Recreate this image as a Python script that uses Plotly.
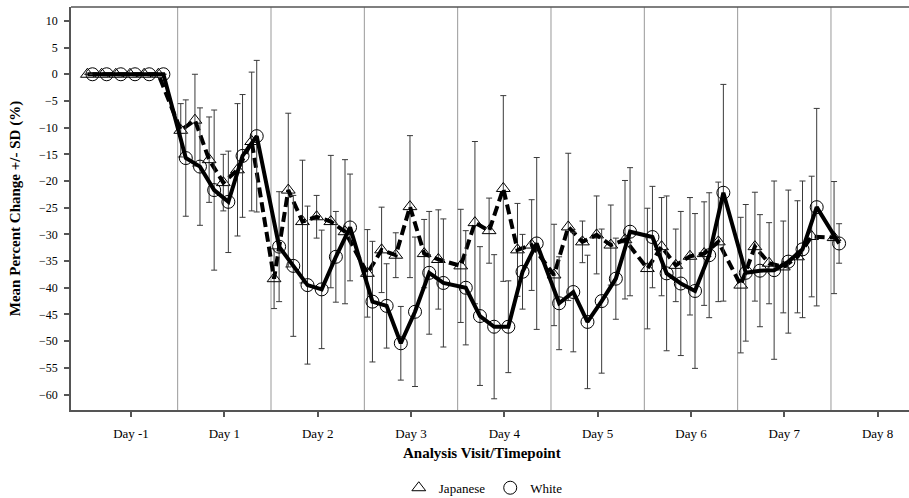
import plotly.graph_objects as go

# ---- data ----
day_labels = ["Day -1", "Day 1", "Day 2", "Day 3", "Day 4", "Day 5", "Day 6", "Day 7", "Day 8"]
# visit (category index) and timepoint slot within visit for each observation
visit_index = [0]*6 + [1]*6 + [2]*6 + [3]*6 + [4]*6 + [5]*6 + [6]*6 + [7]*6 + [8]
timepoint_slot = [0, 1, 2, 3, 4, 5]*8 + [0]

japanese_mean = [0, 0, 0, 0, 0, 0,
                 -10.5, -8.6, -16.0, -20.3, -17.9, -12.6,
                 -38.3, -21.7, -27.6, -26.7, -27.6, -29.5,
                 -37.3, -32.9, -33.9, -24.8, -33.6, -34.7,
                 -35.9, -27.8, -29.3, -21.4, -32.9, -32.0,
                 -37.6, -28.6, -31.4, -30.1, -32.0, -31.0,
                 -36.4, -32.3, -35.8, -34.1, -33.6, -31.4,
                 -39.5, -32.3, -35.4, -36.1, -34.2, -30.4,
                 -30.6]
japanese_sd = [0, 0, 0, 0, 0, 0,
               5.0, 8.6, 8.0, 5.3, 12.4, 13.0,
               5.6, 14.4, 11.5, 4.0, 12.4, 13.5,
               8.2, 8.0, 4.2, 13.3, 6.4, 9.3,
               10.6, 15.2, 6.1, 17.4, 8.7, 8.5,
               9.5, 13.8, 3.9, 7.3, 7.5, 11.1,
               11.3, 9.2, 6.8, 11.0, 9.7, 11.2,
               12.7, 10.2, 7.6, 8.6, 10.5, 11.3,
               10.5]
white_mean = [0, 0, 0, 0, 0, 0,
              -15.7, -17.3, -21.7, -23.9, -15.3, -11.6,
              -32.3, -35.9, -39.5, -40.3, -34.2, -28.7,
              -42.6, -43.4, -50.4, -44.5, -37.2, -39.1,
              -40.0, -45.3, -47.3, -47.3, -37.0, -31.7,
              -42.9, -40.8, -46.4, -42.5, -38.3, -29.5,
              -30.5, -37.3, -39.2, -40.6, -33.9, -22.2,
              -37.2, -36.8, -36.7, -35.1, -32.8, -24.9,
              -31.7]
white_sd = [0, 0, 0, 0, 0, 0,
            10.9, 11.0, 15.0, 9.5, 11.5, 14.2,
            10.3, 13.2, 14.8, 11.1, 8.5, 10.0,
            11.3, 7.9, 6.9, 14.0, 11.5, 12.0,
            10.7, 13.0, 13.5, 8.6, 7.0, 16.1,
            8.7, 11.2, 12.5, 13.5, 7.6, 12.0,
            9.5, 14.5, 13.5, 14.5, 11.7, 20.3,
            12.8, 10.5, 16.7, 13.4, 12.8, 18.5,
            3.7]
y_ticks = list(range(-60, 11, 5))

# ---- positions on the category axis ----
slot_start, slot_step, group_shift = -0.44, 0.152, 0.027
base_x = [v + slot_start + s*slot_step for v, s in zip(visit_index, timepoint_slot)]
x_jap = [b - group_shift for b in base_x]
x_wht = [b + group_shift for b in base_x]

FONT = "Liberation Serif, Times New Roman, serif"
err_style = dict(type="data", symmetric=True, color="#3a3a3a", thickness=1, width=3)
AX = "#555555"

fig = go.Figure()
fig.add_trace(go.Scatter(
    x=x_jap, y=japanese_mean, mode="lines+markers", name="Japanese", showlegend=False,
    line=dict(color="black", width=4, dash="10px,5px"),
    marker=dict(symbol="triangle-up-open", size=12, color="black", line=dict(width=1)),
    error_y=dict(array=japanese_sd, **err_style)))
fig.add_trace(go.Scatter(
    x=x_wht, y=white_mean, mode="lines+markers", name="White", showlegend=False,
    line=dict(color="black", width=4),
    marker=dict(symbol="circle-open", size=13, color="black", line=dict(width=1)),
    error_y=dict(array=white_sd, **err_style)))
# legend-only entries (markers only)
fig.add_trace(go.Scatter(x=[None], y=[None], mode="markers", name="Japanese",
                         marker=dict(symbol="triangle-up-open", size=12, color="black", line=dict(width=1))))
fig.add_trace(go.Scatter(x=[None], y=[None], mode="markers", name="White",
                         marker=dict(symbol="circle-open", size=13, color="black", line=dict(width=1))))

for k in range(len(day_labels) - 1):
    fig.add_shape(type="line", xref="x", yref="paper", x0=k + 0.5, x1=k + 0.5, y0=0, y1=1,
                  line=dict(color="#999999", width=1), layer="below")
# top frame line
fig.add_shape(type="line", xref="paper", yref="paper", x0=0, x1=1.02, y0=1, y1=1,
              line=dict(color=AX, width=1.5))

fig.update_layout(
    width=909, height=498,
    margin=dict(l=71, r=0, t=7, b=88, autoexpand=False),
    plot_bgcolor="white", paper_bgcolor="white",
    font=dict(family=FONT, size=12, color="black"),
    showlegend=True,
    legend=dict(orientation="h", x=0.492, xanchor="center", y=-0.193, yanchor="middle",
                font=dict(family=FONT, size=13), itemwidth=30, bgcolor="rgba(0,0,0,0)"),
    xaxis=dict(range=[-0.643, 8.336], tickmode="array", tickvals=list(range(len(day_labels))),
               ticktext=day_labels, ticks="outside", ticklen=5, tickcolor=AX, tickwidth=1.5,
               showline=True, linecolor=AX, linewidth=1.5, mirror=False, automargin=False,
               showgrid=False, zeroline=False, ticklabelstandoff=6,
               tickfont=dict(family=FONT, size=13)),
    yaxis=dict(range=[-62.9, 12.6], tickmode="array", tickvals=y_ticks,
               ticks="outside", ticklen=5, tickcolor=AX, tickwidth=1.5,
               showline=True, linecolor=AX, linewidth=1.5, mirror=False, automargin=False,
               showgrid=False, zeroline=False, ticklabelstandoff=4,
               tickfont=dict(family=FONT, size=12)),
    annotations=[
        dict(text="<b>Analysis Visit/Timepoint</b>", xref="paper", yref="paper",
             x=0.49, y=-0.107, xanchor="center", yanchor="middle", showarrow=False,
             font=dict(family=FONT, size=15)),
        dict(text="<b>Mean Percent Change +/- SD (%)</b>", xref="paper", yref="paper",
             x=-0.066, y=0.5, xanchor="center", yanchor="middle", textangle=-90,
             showarrow=False, font=dict(family=FONT, size=15)),
    ],
)

fig.write_html("out.html")
